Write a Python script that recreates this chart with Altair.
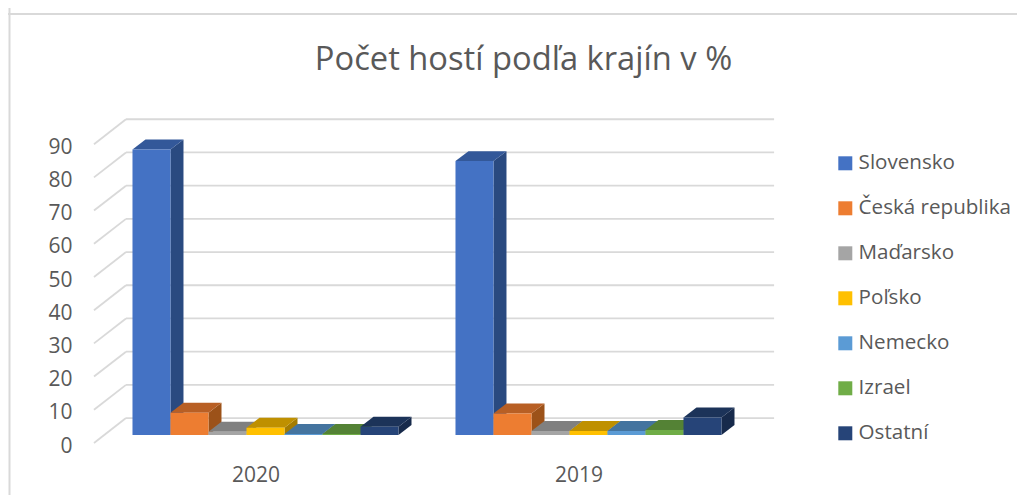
import altair as alt
import pandas as pd

title = "Počet hostí podľa krajín v %"
years = ["2020", "2019"]
countries = ["Slovensko", "Česká republika", "Maďarsko", "Poľsko", "Nemecko", "Izrael", "Ostatní"]
values_2020 = [86, 6.7, 1, 2.2, 0.3, 0.3, 2.5]
values_2019 = [82.5, 6.5, 1.2, 1.2, 1.2, 1.5, 5.3]
ticks = [0, 10, 20, 30, 40, 50, 60, 70, 80, 90]

front_colors = ["#4472C4", "#ED7D31", "#A5A5A5", "#FFC000", "#5B9BD5", "#70AD47", "#264478"]
top_colors = ["#335899", "#B85F24", "#808080", "#BF9000", "#44749F", "#548235", "#1C3359"]
side_colors = ["#2A4A80", "#9C5219", "#6A6A6A", "#A47C00", "#3A6485", "#466E2C", "#172A4B"]

W, H = 1009, 487
BAR_PX = 38.0        # pixels in one x unit (one bar width)
PCT_PX = 3.32        # pixels in one percentage point
GROUP_START = [3.276, 11.776]
DEPTH_X, DEPTH_Y = 0.342, 3.0
FLOOR_X0, FLOOR_X1, WALL_X1 = 2.263, 3.105, 20.16
FLOOR_Y0, FLOOR_Y1 = -2.4, 5.1
YEAR_Y = -12.4

x_scale = alt.Scale(domain=[0, W / BAR_PX], nice=False, zero=False)
y_scale = alt.Scale(domain=[-(H - 427) / PCT_PX, 427 / PCT_PX], nice=False, zero=False)
X = alt.X("x:Q", scale=x_scale, axis=None)

rows, sides, tops = [], [], []
for g, (year, vals) in enumerate(zip(years, [values_2020, values_2019])):
    for i, (c, v) in enumerate(zip(countries, vals)):
        x0 = GROUP_START[g] + i
        key = f"{year}-{i:02d}"
        rows.append({"x": x0, "x2": x0 + 1, "y": v, "y2": 0, "country": c})
        sides.append({"key": key, "x": x0 + 1, "y": v, "y2": 0, "col": side_colors[i]})
        sides.append({"key": key, "x": x0 + 1 + DEPTH_X, "y": v + DEPTH_Y, "y2": DEPTH_Y, "col": side_colors[i]})
        tops.append({"key": key, "x": x0, "x2": x0 + 1, "y": v, "col": top_colors[i]})
        tops.append({"key": key, "x": x0 + DEPTH_X, "x2": x0 + 1 + DEPTH_X, "y": v + DEPTH_Y, "col": top_colors[i]})

grid_color = "#D9D9D9"
diag_rows = []
for t in ticks:
    diag_rows.append({"t": t, "x": FLOOR_X0, "y": t + FLOOR_Y0})
    diag_rows.append({"t": t, "x": FLOOR_X1, "y": t + FLOOR_Y1})
wall_rows = [{"x": FLOOR_X1, "x2": WALL_X1, "y": t + FLOOR_Y1} for t in ticks]
year_rows = [{"x": s + 3.25, "y": YEAR_Y, "year": y} for s, y in zip(GROUP_START, years)]

font = "Open Sans"
text_color = "#595959"

frame = alt.layer(
    alt.Chart(pd.DataFrame({"a": [0]})).mark_rule(color=grid_color, strokeWidth=2).encode(
        x=alt.value(1.5), y=alt.value(0), y2=alt.value(H)),
    alt.Chart(pd.DataFrame({"a": [0]})).mark_rule(color=grid_color, strokeWidth=2).encode(
        x=alt.value(0), x2=alt.value(W), y=alt.value(6)),
)

diag = alt.Chart(pd.DataFrame(diag_rows)).mark_line(color=grid_color, strokeWidth=1.8).encode(
    x=X,
    y=alt.Y("y:Q", scale=y_scale, axis=alt.Axis(
        values=ticks, domain=False, ticks=False, grid=False, title=None, offset=-64,
        labelPadding=0, labelOffset=11, labelFont=font, labelFontSize=21, labelColor=text_color)),
    detail="t:N",
)
wall = alt.Chart(pd.DataFrame(wall_rows)).mark_rule(color=grid_color, strokeWidth=1.8).encode(
    x=X, x2="x2:Q", y=alt.Y("y:Q", scale=y_scale))

side = alt.Chart(pd.DataFrame(sides)).mark_area(orient="vertical").encode(
    x=X, y=alt.Y("y:Q", scale=y_scale), y2="y2:Q", detail="key:N",
    fill=alt.Fill("col:N", scale=None))
top = alt.Chart(pd.DataFrame(tops)).mark_area(orient="horizontal").encode(
    x=X, x2="x2:Q", y=alt.Y("y:Q", scale=y_scale), detail="key:N",
    fill=alt.Fill("col:N", scale=None))
front = alt.Chart(pd.DataFrame(rows)).mark_rect().encode(
    x=X, x2="x2:Q", y=alt.Y("y:Q", scale=y_scale), y2="y2:Q",
    color=alt.Color("country:N", scale=alt.Scale(domain=countries, range=front_colors),
                    sort=countries,
                    legend=alt.Legend(
                        orient="none", legendX=827, legendY=145, title=None, padding=0,
                        symbolType="square", symbolSize=196, symbolStrokeWidth=0,
                        symbolOpacity=1, labelFont=font, labelFontSize=20.6, labelColor=text_color,
                        labelOffset=3, rowPadding=24, labelLimit=300)))
year_text = alt.Chart(pd.DataFrame(year_rows)).mark_text(
    font=font, fontSize=21, color=text_color).encode(
    x=X, y=alt.Y("y:Q", scale=y_scale), text="year:N")

chart = alt.layer(frame, diag, wall, side, top, front, year_text).resolve_scale(
    color="independent", fill="independent"
).properties(
    width=W, height=H, padding=0, autosize=alt.AutoSizeParams(type="none"),
    title=alt.TitleParams(title, font=font, fontSize=32.7, fontWeight="normal", color=text_color,
                          anchor="middle", offset=-70, dx=11),
).configure_view(stroke=None)

chart.save("out.html", embed_options={"renderer": "svg", "actions": False})
